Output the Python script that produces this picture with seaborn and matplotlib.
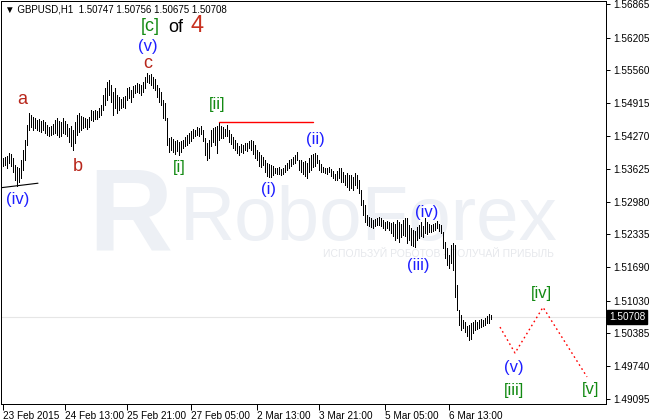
import numpy as np
import matplotlib
matplotlib.use("Agg")
import matplotlib.pyplot as plt
import matplotlib.transforms as mtransforms
import seaborn as sns

# hourly bars, high / low
highs = [
    1.5384, 1.5386, 1.5388, 1.5393, 1.5391, 1.5384, 1.5370, 1.5366, 1.5364, 1.5380,
    1.5399, 1.5419, 1.5449, 1.5472, 1.5468, 1.5464, 1.5462, 1.5458, 1.5460, 1.5456,
    1.5458, 1.5454, 1.5449, 1.5445, 1.5447, 1.5451, 1.5458, 1.5462, 1.5456, 1.5454,
    1.5462, 1.5456, 1.5451, 1.5443, 1.5447, 1.5439, 1.5454, 1.5468, 1.5472, 1.5466,
    1.5464, 1.5462, 1.5460, 1.5464, 1.5478, 1.5476, 1.5478, 1.5476, 1.5482, 1.5488,
    1.5508, 1.5521, 1.5533, 1.5537, 1.5527, 1.5513, 1.5521, 1.5508, 1.5504, 1.5500,
    1.5504, 1.5506, 1.5521, 1.5523, 1.5517, 1.5525, 1.5527, 1.5531, 1.5529, 1.5527,
    1.5533, 1.5543, 1.5551, 1.5547, 1.5549, 1.5543, 1.5539, 1.5527, 1.5521, 1.5513,
    1.5498, 1.5492, 1.5462, 1.5423, 1.5425, 1.5421, 1.5417, 1.5419, 1.5415, 1.5417,
    1.5419, 1.5425, 1.5429, 1.5433, 1.5437, 1.5441, 1.5439, 1.5445, 1.5443, 1.5447,
    1.5439, 1.5423, 1.5413, 1.5419, 1.5439, 1.5443, 1.5445, 1.5447, 1.5454, 1.5447,
    1.5445, 1.5441, 1.5449, 1.5439, 1.5431, 1.5425, 1.5419, 1.5413, 1.5407, 1.5411,
    1.5409, 1.5413, 1.5413, 1.5417, 1.5419, 1.5417, 1.5409, 1.5399, 1.5395, 1.5389,
    1.5386, 1.5380, 1.5374, 1.5372, 1.5370, 1.5368, 1.5364, 1.5364, 1.5366, 1.5362,
    1.5364, 1.5370, 1.5374, 1.5380, 1.5382, 1.5386, 1.5389, 1.5395, 1.5380, 1.5380,
    1.5376, 1.5378, 1.5374, 1.5384, 1.5389, 1.5391, 1.5393, 1.5389, 1.5380, 1.5372,
    1.5366, 1.5364, 1.5364, 1.5366, 1.5362, 1.5358, 1.5352, 1.5358, 1.5364, 1.5364,
    1.5356, 1.5350, 1.5354, 1.5350, 1.5350, 1.5346, 1.5354, 1.5350, 1.5340, 1.5321,
    1.5301, 1.5291, 1.5271, 1.5268, 1.5266, 1.5262, 1.5264, 1.5266, 1.5268, 1.5266,
    1.5262, 1.5258, 1.5260, 1.5258, 1.5256, 1.5258, 1.5254, 1.5262, 1.5258, 1.5254,
    1.5262, 1.5266, 1.5266, 1.5252, 1.5246, 1.5242, 1.5240, 1.5248, 1.5252, 1.5258,
    1.5250, 1.5266, 1.5258, 1.5254, 1.5252, 1.5254, 1.5256, 1.5260, 1.5254, 1.5252,
    1.5238, 1.5218, 1.5207, 1.5193, 1.5212, 1.5216, 1.5212, 1.5134, 1.5085, 1.5075,
    1.5065, 1.5061, 1.5053, 1.5055, 1.5059, 1.5061, 1.5065, 1.5061, 1.5065, 1.5067,
    1.5065, 1.5069, 1.5073, 1.5077, 1.50756,
]
lows = [
    1.5368, 1.5370, 1.5364, 1.5374, 1.5368, 1.5356, 1.5340, 1.5329, 1.5336, 1.5344,
    1.5360, 1.5380, 1.5409, 1.5439, 1.5445, 1.5439, 1.5443, 1.5439, 1.5437, 1.5435,
    1.5439, 1.5433, 1.5429, 1.5427, 1.5429, 1.5431, 1.5433, 1.5429, 1.5425, 1.5427,
    1.5433, 1.5431, 1.5427, 1.5415, 1.5407, 1.5399, 1.5413, 1.5429, 1.5435, 1.5439,
    1.5443, 1.5445, 1.5441, 1.5445, 1.5458, 1.5456, 1.5460, 1.5460, 1.5464, 1.5468,
    1.5478, 1.5488, 1.5498, 1.5508, 1.5494, 1.5468, 1.5482, 1.5472, 1.5478, 1.5482,
    1.5484, 1.5482, 1.5498, 1.5502, 1.5494, 1.5504, 1.5511, 1.5513, 1.5511, 1.5508,
    1.5513, 1.5521, 1.5533, 1.5531, 1.5527, 1.5521, 1.5517, 1.5504, 1.5494, 1.5488,
    1.5462, 1.5458, 1.5409, 1.5395, 1.5399, 1.5395, 1.5391, 1.5397, 1.5389, 1.5395,
    1.5403, 1.5407, 1.5409, 1.5413, 1.5417, 1.5423, 1.5427, 1.5429, 1.5427, 1.5431,
    1.5417, 1.5389, 1.5380, 1.5384, 1.5407, 1.5415, 1.5409, 1.5393, 1.5419, 1.5423,
    1.5423, 1.5427, 1.5427, 1.5415, 1.5411, 1.5403, 1.5399, 1.5393, 1.5389, 1.5395,
    1.5393, 1.5399, 1.5397, 1.5403, 1.5399, 1.5391, 1.5384, 1.5380, 1.5368, 1.5366,
    1.5370, 1.5356, 1.5348, 1.5346, 1.5346, 1.5350, 1.5354, 1.5352, 1.5352, 1.5350,
    1.5352, 1.5356, 1.5360, 1.5364, 1.5368, 1.5372, 1.5374, 1.5380, 1.5360, 1.5356,
    1.5352, 1.5348, 1.5344, 1.5356, 1.5360, 1.5366, 1.5368, 1.5374, 1.5360, 1.5356,
    1.5356, 1.5354, 1.5352, 1.5356, 1.5348, 1.5344, 1.5340, 1.5340, 1.5344, 1.5336,
    1.5336, 1.5331, 1.5327, 1.5321, 1.5325, 1.5321, 1.5331, 1.5325, 1.5315, 1.5291,
    1.5271, 1.5258, 1.5252, 1.5250, 1.5248, 1.5246, 1.5250, 1.5252, 1.5252, 1.5250,
    1.5246, 1.5242, 1.5246, 1.5242, 1.5236, 1.5230, 1.5222, 1.5226, 1.5218, 1.5228,
    1.5232, 1.5230, 1.5216, 1.5222, 1.5212, 1.5210, 1.5209, 1.5222, 1.5226, 1.5230,
    1.5228, 1.5236, 1.5234, 1.5238, 1.5238, 1.5240, 1.5242, 1.5246, 1.5240, 1.5236,
    1.5207, 1.5187, 1.5173, 1.5167, 1.5177, 1.5163, 1.5110, 1.5085, 1.5055, 1.5045,
    1.5049, 1.5041, 1.5034, 1.5026, 1.5028, 1.5039, 1.5045, 1.5047, 1.5049, 1.5051,
    1.5053, 1.5055, 1.5059, 1.5059, 1.50675,
]

date_labels = ["23 Feb 2015", "24 Feb 13:00", "25 Feb 21:00", "27 Feb 05:00",
               "2 Mar 13:00", "3 Mar 21:00", "5 Mar 05:00", "6 Mar 13:00"]
date_bars = [0, 31, 62, 94, 127, 158, 191, 223]

price_ticks = [1.56865, 1.56205, 1.55560, 1.54915, 1.54270, 1.53625, 1.52980,
               1.52335, 1.51690, 1.51030, 1.50385, 1.49740, 1.49095]
last_price = 1.50708
header = "\u25bc GBPUSD,H1  1.50747 1.50756 1.50675 1.50708"

# resistance at [ii] high, short support line, forecast path
res_x = [108, 155]
res_y = [1.5454, 1.5454]
sup_x = [-1.25, 17.5]
sup_y = [1.5325, 1.5334]
proj_x = [248.5, 256, 270, 292]
proj_y = [1.5051, 1.5000, 1.5090, 1.4953]

blue = "#1e1eff"
green = "#138a13"
dred = "#b8261b"
wave_labels = [
    ("(v)", 72.5, 1.5602, blue, 12),
    ("c", 72.5, 1.5570, dred, 13),
    ("a", 9.5, 1.5498, dred, 13),
    ("b", 37.5, 1.5366, dred, 13),
    ("(iv)", 7.5, 1.5301, blue, 12),
    ("[i]", 88, 1.5364, green, 12),
    ("[ii]", 107, 1.5488, green, 12),
    ("(i)", 132.5, 1.5321, blue, 12),
    ("(ii)", 156, 1.5419, blue, 12),
    ("(iv)", 212, 1.5277, blue, 12),
    ("(iii)", 207.5, 1.5173, blue, 12),
    ("(v)", 255.5, 1.4972, blue, 12),
    ("[iii]", 255.5, 1.4927, green, 12),
    ("[iv]", 269, 1.5118, green, 12),
    ("[v]", 294, 1.4929, green, 12),
]

sns.set_style("white")
plt.rcParams['font.family'] = ['Liberation Sans', 'DejaVu Sans']

fig = plt.figure(figsize=(6.5, 4.2), dpi=100)
fig.patch.set_facecolor("white")
ax = fig.add_axes([0.5 / 650, 1 - 404 / 420, 605.5 / 650, 403 / 420])
ax.set_facecolor("white")

# watermark
wm = "#edf0f5"
ax.text(0.1445, 0.382, "R", transform=ax.transAxes, fontsize=84, fontweight="bold",
        color=wm, ha="left", va="baseline", zorder=0)
ax.text(0.2965, 0.407, "RoboForex", transform=ax.transAxes, fontsize=55,
        color=wm, ha="left", va="baseline", zorder=0)
ax.text(0.724, 0.371, "ИСПОЛЬЗУЙ РОБОТОВ - ПОЛУЧАЙ ПРИБЫЛЬ", transform=ax.transAxes,
        fontsize=7.5, color="#e6e8ec", ha="center", va="center", zorder=0)

ax.axhline(last_price, color="#e6e6e6", lw=0.8, zorder=1)

bars = np.arange(len(highs))
ax.vlines(bars, lows, highs, colors="black", linewidths=0.72,
          antialiased=False, zorder=3)

sns.lineplot(x=res_x, y=res_y, ax=ax, color="red", lw=1.0, zorder=4)
sns.lineplot(x=sup_x, y=sup_y, ax=ax, color="black", lw=0.8, zorder=4)
sns.lineplot(x=proj_x, y=proj_y, ax=ax, color="red", lw=1.0, sort=False,
             linestyle=(0, (1.2, 2.2)), zorder=4)

for txt, x, y, col, size in wave_labels:
    ax.text(x, y, txt, color=col, fontsize=size, ha="center", va="center", zorder=5)

ax.text(73.5, 1.5643, "[c]", color=green, fontsize=13, ha="center", va="center")
ax.text(86.5, 1.5641, "of", color="black", fontsize=13, ha="center", va="center")
ax.text(97, 1.5643, "4", color="#c8301f", fontsize=17, ha="center", va="center")

ax.set_xlim(-1.25, 301.5)
ax.set_ylim(1.48997, 1.56924)

ax.yaxis.tick_right()
ax.set_yticks(price_ticks)
ax.set_yticklabels([f"{p:.5f}" for p in price_ticks])
ax.set_xticks(date_bars)
ax.set_xticklabels(date_labels)
for lab in ax.get_xticklabels():
    lab.set_horizontalalignment("left")
ax.tick_params(axis="y", right=True, left=False, direction="out", length=3,
               width=0.72, labelsize=7.2, pad=2, colors="black")
ax.tick_params(axis="x", bottom=True, direction="out", length=4,
               width=0.72, labelsize=7.2, pad=1, colors="black")

for sp in ax.spines.values():
    sp.set_visible(True)
    sp.set_color("black")
    sp.set_linewidth(0.72)

trans = mtransforms.blended_transform_factory(ax.transAxes, ax.transData)
ax.text(1.0 + 3 / 605.5, last_price, f"{last_price:.5f}", transform=trans,
        color="white", fontsize=7.2, ha="left", va="center", clip_on=False,
        bbox=dict(boxstyle="square,pad=0.2", fc="black", ec="black"), zorder=6)

fig.text(5 / 650, 1 - 10 / 420, header, fontsize=7, color="black",
         ha="left", va="center")

fig.savefig("out.png", dpi=100)
